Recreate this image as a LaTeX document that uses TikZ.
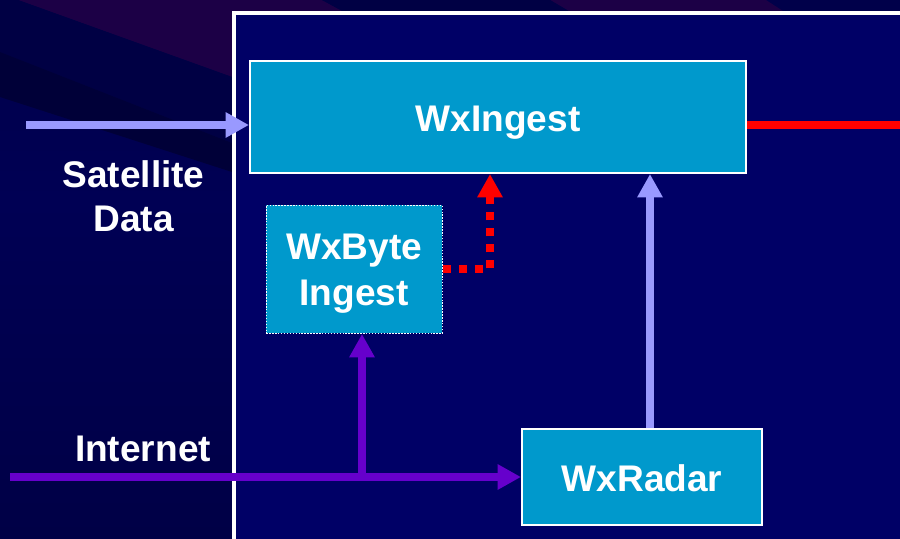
\documentclass[tikz,border=0pt]{standalone}
\usepackage{fontspec}
\setmainfont{Liberation Sans}
\usetikzlibrary{arrows.meta}
\definecolor{bgtop}{HTML}{00004A}
\definecolor{bgmid}{HTML}{000054}
\definecolor{bglow}{HTML}{000046}
\definecolor{bgdark}{HTML}{000044}
\definecolor{bgdarker}{HTML}{000038}
\definecolor{bgplum}{HTML}{1C0046}
\definecolor{inner}{HTML}{000066}
\definecolor{boxfill}{HTML}{0099CC}
\definecolor{lilac}{HTML}{9999FF}
\definecolor{violet}{HTML}{6600CC}
\definecolor{redline}{HTML}{FF0000}
\tikzset{
  x=0.75pt,y=-0.75pt,
  every node/.style={outer sep=0pt,inner sep=0pt},
  txt/.style={text=white,font=\fontsize{27.8pt}{33pt}\selectfont\bfseries,align=center},
  block/.style={draw=white,fill=boxfill,line width=1.5pt,outer sep=0.75pt,anchor=north west},
  dotblock/.style={draw=white,fill=boxfill,line width=1.1pt,dash pattern=on 1.1pt off 1.1pt,outer sep=0.55pt,anchor=north west},
  conn/.style={line width=6.2pt,line cap=butt},
  arrowed/.style={-{Triangle[length=17.5pt,width=18pt]}},
}
\begin{document}
\begin{tikzpicture}
\useasboundingbox (0,0) rectangle (900,539);
\clip (0,0) rectangle (900,539);
% background
\shade[top color=bgtop,bottom color=bgmid] (0,0) rectangle (900,200);
\shade[top color=bgmid,bottom color=bglow] (0,200) rectangle (900,539);
\fill[bgplum] (18,0) -- (232,77) -- (236,13) -- (346,13) -- (322,0) -- cycle;
\fill[bgplum] (550,0) -- (572,13) -- (786,13) -- (766,0) -- cycle;
\fill[bgdark] (18,0) -- (232,77) -- (232,143) -- (0,52) -- (0,0) -- cycle;
\fill[bgdark] (322,0) -- (346,13) -- (572,13) -- (550,0) -- cycle;
\fill[bgdarker] (0,52) -- (232,143) -- (232,172) -- (0,97) -- cycle;
% frame
\fill[inner] (234,13) rectangle (900,539);
\draw[white,line width=3pt] (234,539) -- (234,13) -- (900,13);
% blocks
\node[block,minimum width=372pt,minimum height=84pt] (ingest) at (249,60) {};
\node[dotblock,minimum width=132pt,minimum height=96pt] (byte) at (265.5,204.5) {};
\node[block,minimum width=180pt,minimum height=72pt] (radar) at (521,428) {};
% anchor points
\coordinate (satstart) at (26,125);
\coordinate (satend) at (ingest.west |- satstart);
\coordinate (outend) at (900,125);
\coordinate (outstart) at (ingest.east |- outend);
\coordinate (netstart) at (10,477);
\coordinate (netend) at (radar.west |- netstart);
\coordinate (branch) at (362,477);
\coordinate (branchend) at (branch |- byte.south);
\coordinate (radarx) at (650,0);
\coordinate (radarout) at (radar.north -| radarx);
\coordinate (radarin) at (ingest.south -| radarx);
\coordinate (bytein) at (490,0);
\coordinate (byteinend) at (ingest.south -| bytein);
% connectors
\draw[conn,lilac,arrowed] (satstart) -- (satend);
\draw[conn,redline] (outstart) -- (outend);
\draw[conn,lilac,arrowed] (radarout) -- (radarin);
\draw[conn,violet,arrowed] (netstart) -- (netend);
\draw[conn,violet,arrowed] (branch) -- (branchend);
\draw[conn,redline,dash pattern=on 6pt off 6pt,arrowed] (byte.east) -| (byteinend);
% labels
\node[txt,anchor=base] (t1) at (498,131) {WxIngest};
\node[txt,anchor=base] (t2) at (354,259) {WxByte};
\node[txt,anchor=base] (t3) at (354,305) {Ingest};
\node[txt,anchor=base] (t4) at (642,491) {WxRadar};
\node[txt,anchor=base] (t5) at (133.5,187) {Satellite};
\node[txt,anchor=base] (t6) at (133.5,231) {Data};
\node[txt,anchor=base] (t7) at (143,461) {Internet};
\end{tikzpicture}
\end{document}
